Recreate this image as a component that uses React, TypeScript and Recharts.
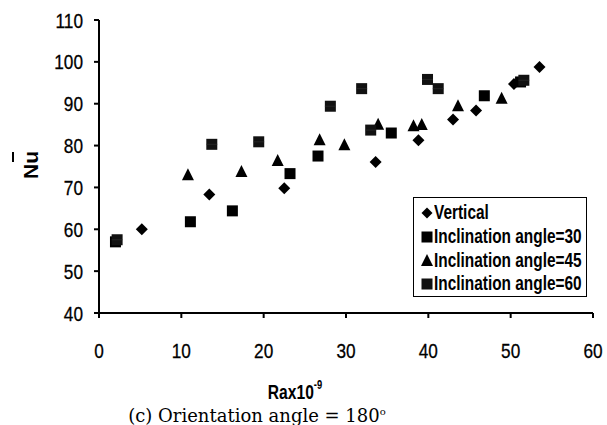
import React from 'react';
import { ScatterChart, Scatter, XAxis, YAxis } from 'recharts';

const verticalX = [5.2, 13.4, 22.5, 33.6, 38.8, 43.0, 45.8, 50.4, 53.5];
const verticalY = [60.0, 68.3, 69.8, 76.1, 81.3, 86.2, 88.4, 94.7, 98.8];

const incl30X = [2.0, 11.1, 16.2, 23.2, 26.6, 35.5, 46.8, 51.2];
const incl30Y = [57.0, 61.8, 64.4, 73.3, 77.5, 83.0, 91.9, 95.2];

const incl45X = [10.8, 17.3, 21.7, 26.8, 29.8, 33.9, 38.2, 39.2, 43.6, 48.9];
const incl45Y = [72.9, 73.7, 76.3, 81.3, 80.1, 85.0, 84.6, 84.9, 89.4, 91.2];

const incl60X = [2.2, 13.7, 19.4, 28.1, 31.9, 33.0, 39.9, 41.2, 51.6];
const incl60Y = [57.5, 80.3, 80.9, 89.4, 93.6, 83.7, 95.8, 93.6, 95.6];

const xTicks = [0, 10, 20, 30, 40, 50, 60];
const yTicks = [40, 50, 60, 70, 80, 90, 100, 110];

const seriesNames = ['Vertical', 'Inclination angle=30', 'Inclination angle=45', 'Inclination angle=60'];

const toPoints = (xs: number[], ys: number[]) => xs.map((x, i) => ({ x, y: ys[i] }));

const FONT = '"Liberation Sans", Arial, sans-serif';

const Diamond = (props: any) => {
  const { cx, cy } = props;
  const r = 6;
  return <path d={`M${cx},${cy - r}L${cx + r},${cy}L${cx},${cy + r}L${cx - r},${cy}Z`} fill="#000" />;
};
const Square = (props: any) => {
  const { cx, cy } = props;
  const s = 5.5;
  return <rect x={cx - s} y={cy - s} width={2 * s} height={2 * s} fill="#000" />;
};
const Square60 = (props: any) => {
  const { cx, cy } = props;
  const s = 5.5;
  return (
    <g>
      <rect x={cx - s} y={cy - s} width={2 * s} height={2 * s} fill="#111" />
      <line x1={cx - s} x2={cx + s} y1={cy} y2={cy} stroke="#333" strokeWidth={0.6} />
    </g>
  );
};
const Triangle = (props: any) => {
  const { cx, cy } = props;
  return <path d={`M${cx},${cy - 7}L${cx + 6},${cy + 5}L${cx - 6},${cy + 5}Z`} fill="#000" />;
};

const XTick = (props: any) => {
  const { x, y, payload } = props;
  return (
    <g transform={`translate(${x},${y})`}>
      <text transform="scale(0.82,1)" textAnchor="middle" dy="0.71em" fill="#000" stroke="#000" strokeWidth={0.3} fontSize={21} fontFamily={FONT}>
        {payload.value}
      </text>
    </g>
  );
};
const YTick = (props: any) => {
  const { x, y, payload } = props;
  return (
    <g transform={`translate(${x},${y})`}>
      <text transform="scale(0.82,1)" textAnchor="end" dy="0.36em" fill="#000" stroke="#000" strokeWidth={0.3} fontSize={21} fontFamily={FONT}>
        {payload.value}
      </text>
    </g>
  );
};

const markerIcons = [
  <svg width={12} height={12}><path d="M6,0.5L11.5,6L6,11.5L0.5,6Z" fill="#000" /></svg>,
  <svg width={12} height={12}><rect x={0.5} y={0.5} width={11} height={11} fill="#000" /></svg>,
  <svg width={12} height={12}><path d="M6,0L12,12L0,12Z" fill="#000" /></svg>,
  <svg width={12} height={12}><rect x={0.5} y={0.5} width={11} height={11} fill="#111" /></svg>,
];

const LegendBox = () => (
  <div
    style={{
      position: 'absolute',
      left: 413,
      top: 197,
      border: '1px solid #000',
      background: '#fff',
      width: 174,
      height: 100,
      boxSizing: 'border-box',
      padding: '3px 0 0 7px',
      fontFamily: FONT,
      fontWeight: 'bold',
      fontSize: 20,
      color: '#000',
    }}
  >
    {seriesNames.map((n, i) => (
      <div key={n} style={{ display: 'flex', alignItems: 'center', height: 23.7, whiteSpace: 'nowrap' }}>
        <span style={{ display: 'inline-block', width: 12, marginRight: 1, lineHeight: 0 }}>{markerIcons[i]}</span>
        <span style={{ display: 'inline-block', transform: 'scaleX(0.77)', transformOrigin: 'left center' }}>{n}</span>
      </div>
    ))}
  </div>
);

export default function App() {
  return (
    <div style={{ position: 'absolute', left: 0, top: 0, width: 607, height: 425, background: '#fff', overflow: 'hidden' }}>
      <ScatterChart width={607} height={425} margin={{ top: 20, right: 14, bottom: 72, left: 0 }}>
        <XAxis
          xAxisId="b"
          type="number"
          dataKey="x"
          domain={[0, 60]}
          ticks={xTicks}
          tickSize={5}
          tickMargin={25}
          height={40}
          stroke="#000"
          strokeWidth={2}
          tick={<XTick />}
          allowDataOverflow
        />
        <XAxis xAxisId="t" orientation="top" type="number" domain={[0, 60]} tick={false} tickLine={false} height={0} stroke="#000" strokeWidth={1} />
        <YAxis
          yAxisId="l"
          type="number"
          dataKey="y"
          domain={[40, 110]}
          ticks={yTicks}
          tickSize={5}
          tickMargin={11}
          width={99}
          stroke="#000"
          strokeWidth={2}
          tick={<YTick />}
          allowDataOverflow
        />
        <YAxis yAxisId="r" orientation="right" type="number" domain={[40, 110]} tick={false} tickLine={false} width={0} stroke="#000" strokeWidth={2} />
        <Scatter xAxisId="b" yAxisId="l" name={seriesNames[0]} data={toPoints(verticalX, verticalY)} shape={Diamond} isAnimationActive={false} />
        <Scatter xAxisId="b" yAxisId="l" name={seriesNames[1]} data={toPoints(incl30X, incl30Y)} shape={Square} isAnimationActive={false} />
        <Scatter xAxisId="b" yAxisId="l" name={seriesNames[2]} data={toPoints(incl45X, incl45Y)} shape={Triangle} isAnimationActive={false} />
        <Scatter xAxisId="b" yAxisId="l" name={seriesNames[3]} data={toPoints(incl60X, incl60Y)} shape={Square60} isAnimationActive={false} />
      </ScatterChart>
      <LegendBox />
      <div
        style={{
          position: 'absolute',
          left: 31,
          top: 165,
          transform: 'translate(-50%, -50%) rotate(-90deg)',
          fontFamily: FONT,
          fontWeight: 'bold',
          fontSize: 21,
          color: '#000',
          whiteSpace: 'nowrap',
        }}
      >
        Nu
      </div>
      <div style={{ position: 'absolute', left: 12, top: 152, width: 2, height: 10, background: '#000' }} />
      <div
        style={{
          position: 'absolute',
          left: 295,
          top: 392,
          transform: 'translate(-50%, -50%) scaleX(0.78)',
          fontFamily: FONT,
          fontWeight: 'bold',
          fontSize: 20,
          color: '#000',
          whiteSpace: 'nowrap',
        }}
      >
        Rax10<sup style={{ fontSize: 12, verticalAlign: 'top', position: 'relative', top: -3 }}>-9</sup>
      </div>
      <div
        style={{
          position: 'absolute',
          left: 257,
          top: 415,
          transform: 'translate(-50%, -50%)',
          fontFamily: '"DejaVu Serif", serif',
          fontSize: 18,
          color: '#000',
          whiteSpace: 'nowrap',
        }}
      >
        (c) Orientation angle = 180<sup style={{ fontSize: 10 }}>o</sup>
      </div>
    </div>
  );
}
